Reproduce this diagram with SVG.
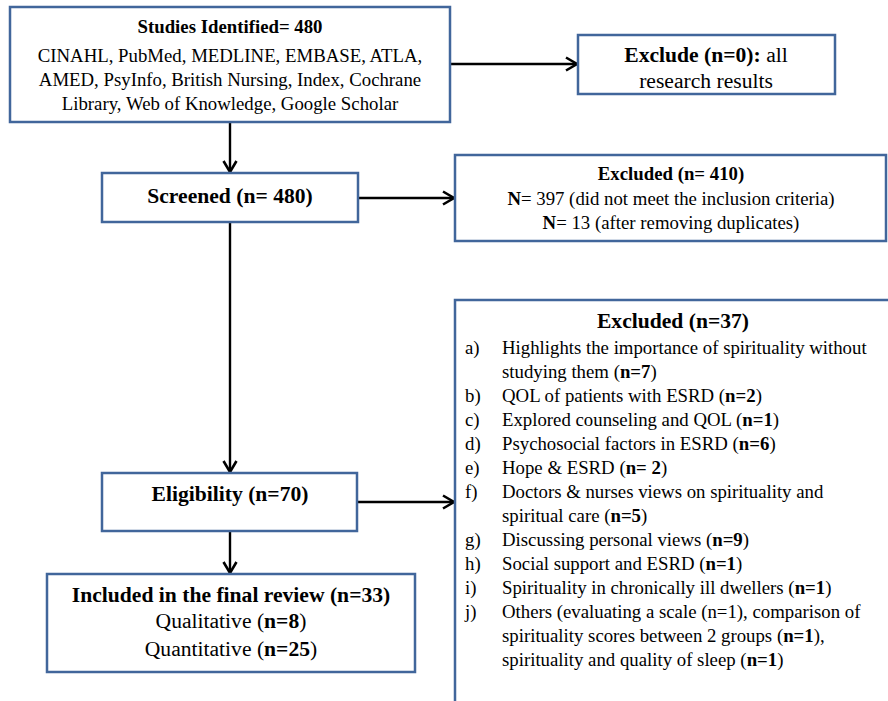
<svg xmlns="http://www.w3.org/2000/svg" width="888" height="701" viewBox="0 0 888 701">
<defs>
<style>
.box{fill:#fff;stroke:#41669b;stroke-width:2.5}
.t{font-family:"Liberation Serif","Times New Roman",serif;fill:#000}
.s{font-size:18.8px}
.l{font-size:21.6px}
.b{font-weight:bold}
.c{text-anchor:middle}
.conn{stroke:#000;stroke-width:2.4;fill:none}
</style>
<marker id="arr" markerUnits="userSpaceOnUse" markerWidth="16" markerHeight="16" refX="13" refY="8" orient="auto">
<path d="M2,1.5 L13,8 L2,14.5" fill="none" stroke="#000" stroke-width="2.6"/>
</marker>
</defs>
<rect width="888" height="701" fill="#fff"/>
<g id="connectors">
<line class="conn" x1="450" y1="64" x2="577" y2="64" marker-end="url(#arr)"/>
<line class="conn" x1="230" y1="122" x2="230" y2="172" marker-end="url(#arr)"/>
<line class="conn" x1="358" y1="198" x2="454" y2="198" marker-end="url(#arr)"/>
<line class="conn" x1="230" y1="222" x2="230" y2="472" marker-end="url(#arr)"/>
<line class="conn" x1="357" y1="502" x2="454" y2="502" marker-end="url(#arr)"/>
<line class="conn" x1="230" y1="531" x2="230" y2="573" marker-end="url(#arr)"/>
</g>
<g id="identified">
<rect class="box" x="10" y="7" width="440" height="115"/>
<text class="t s c" x="230" y="33"><tspan class="b">Studies Identified= 480</tspan></text>
<text class="t s c" x="230" y="62">CINAHL, PubMed, MEDLINE, EMBASE, ATLA,</text>
<text class="t s c" x="230" y="86">AMED, PsyInfo, British Nursing, Index, Cochrane</text>
<text class="t s c" x="230" y="110">Library, Web of Knowledge, Google Scholar</text>
</g>
<g id="exclude0">
<rect class="box" x="578" y="35" width="257" height="59"/>
<text class="t l c" x="706" y="62"><tspan class="b">Exclude (n=0)</tspan><tspan class="b">:</tspan> all</text>
<text class="t l c" x="706" y="88">research results</text>
</g>
<g id="screened">
<rect class="box" x="102" y="173" width="256" height="49"/>
<text class="t l c b" x="230" y="203">Screened (n= 480)</text>
</g>
<g id="excluded410">
<rect class="box" x="455" y="155" width="431" height="86"/>
<text class="t s c b" x="671" y="180">Excluded (n= 410)</text>
<text class="t s c" x="671" y="205"><tspan class="b">N</tspan>= 397 (did not meet the inclusion criteria)</text>
<text class="t s c" x="671" y="229"><tspan class="b">N</tspan>= 13 (after removing duplicates)</text>
</g>
<g id="excluded37">
<rect class="box" x="455" y="300" width="500" height="450"/>
<text class="t l c b" x="673" y="328">Excluded (n=37)</text>
<g class="t s">
<text x="465" y="354">a)</text><text x="502" y="354">Highlights the importance of spirituality without</text>
<text x="502" y="378">studying them (<tspan class="b">n=7</tspan>)</text>
<text x="465" y="402">b)</text><text x="502" y="402">QOL of patients with ESRD (<tspan class="b">n=2</tspan>)</text>
<text x="465" y="426">c)</text><text x="502" y="426">Explored counseling and QOL (<tspan class="b">n=1</tspan>)</text>
<text x="465" y="450">d)</text><text x="502" y="450">Psychosocial factors in ESRD (<tspan class="b">n=6</tspan>)</text>
<text x="465" y="474">e)</text><text x="502" y="474">Hope &amp; ESRD (<tspan class="b">n= 2</tspan>)</text>
<text x="465" y="498">f)</text><text x="502" y="498">Doctors &amp; nurses views on spirituality and</text>
<text x="502" y="522">spiritual care (<tspan class="b">n=5</tspan>)</text>
<text x="465" y="546">g)</text><text x="502" y="546">Discussing personal views (<tspan class="b">n=9</tspan>)</text>
<text x="465" y="570">h)</text><text x="502" y="570">Social support and ESRD (<tspan class="b">n=1</tspan>)</text>
<text x="465" y="594">i)</text><text x="502" y="594">Spirituality in chronically ill dwellers (<tspan class="b">n=1</tspan>)</text>
<text x="465" y="618">j)</text><text x="502" y="618">Others (evaluating a scale (n=1), comparison of</text>
<text x="502" y="642">spirituality scores between 2 groups (<tspan class="b">n=1</tspan>),</text>
<text x="502" y="666">spirituality and quality of sleep (<tspan class="b">n=1</tspan>)</text>
</g>
</g>
<g id="eligibility">
<rect class="box" x="102" y="473" width="255" height="58"/>
<text class="t l c b" x="230" y="501">Eligibility (n=70)</text>
</g>
<g id="included">
<rect class="box" x="47" y="574" width="368" height="98"/>
<text class="t l c b" x="231" y="602">Included in the final review (n=33)</text>
<text class="t l c" x="231" y="628">Qualitative (<tspan class="b">n=8</tspan>)</text>
<text class="t l c" x="231" y="656">Quantitative (<tspan class="b">n=25</tspan>)</text>
</g>
</svg>
